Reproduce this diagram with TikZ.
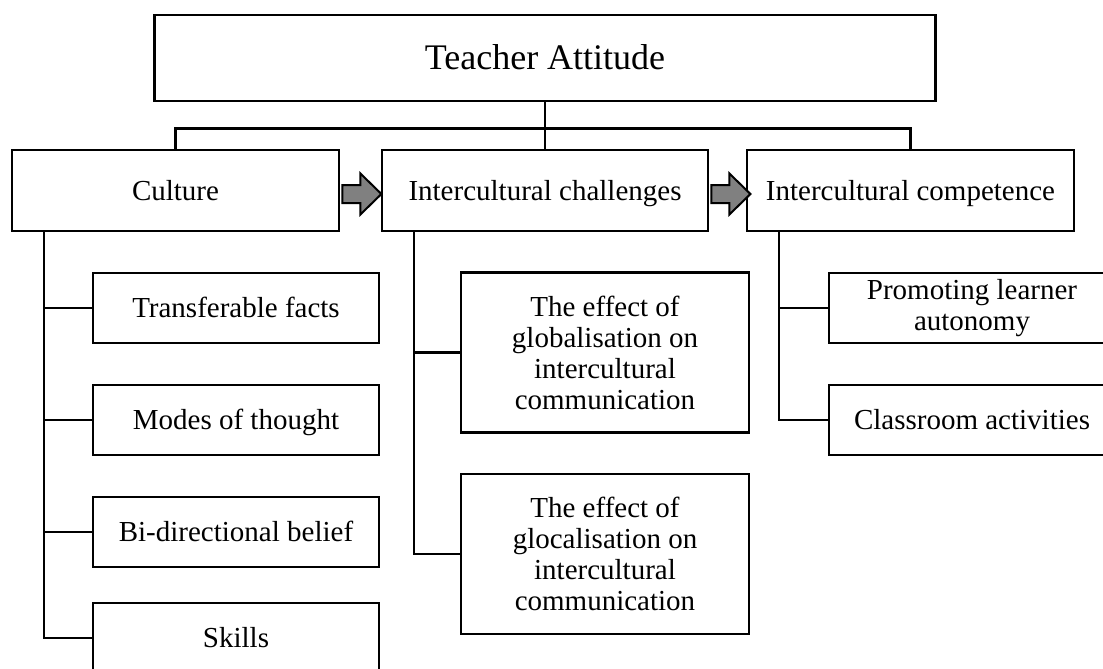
\documentclass[tikz,border=0pt]{standalone}
\usepackage{fontspec}
\setmainfont{Liberation Serif}
\usetikzlibrary{calc}

\begin{document}
\begin{tikzpicture}[x=1pt, y=-1pt, line width=2.8pt,
	box/.style={draw, rectangle, inner sep=0pt, align=center,
		font=\fontsize{29}{31}\selectfont},
	oneline/.style={text height=22pt, text depth=3pt},
	subbox/.style={box, minimum width=286, minimum height=70},
	blockarrow/.style={draw, fill=gray, line width=2pt, line join=miter}]
	  \useasboundingbox (0,0) rectangle (1103,669);

	  \node[box, oneline, minimum width=781, minimum height=86, text height=27pt,
		font=\fontsize{36}{40}\selectfont] (top) at (545,58) {Teacher Attitude};

	  \node[box, oneline, minimum width=327, minimum height=81] (cult) at (175.5,190.5) {Culture};
	  \node[box, oneline, minimum width=326, minimum height=81] (chal) at (545,190.5) {Intercultural challenges};
	  \node[box, oneline, minimum width=327, minimum height=81] (comp) at (910.5,190.5) {Intercultural competence};

	  % culture
	  \node[subbox, oneline] (tf) at (236,308) {Transferable facts};
	  \node[subbox, oneline] (mt) at (236,420) {Modes of thought};
	  \node[subbox, oneline] (bb) at (236,532) {Bi-directional belief};
	  \node[subbox, oneline] (sk) at (236,638) {Skills};

	  % challenges
	  \node[box, minimum width=288, minimum height=160] (glob) at (605,352.5)
		{The effect of\\globalisation on\\intercultural\\communication};
	  \node[box, minimum width=288, minimum height=160] (gloc) at (605,554)
		{The effect of\\glocalisation on\\intercultural\\communication};

	  % competence
	  \node[subbox] (auto) at (972,308) {Promoting learner\\autonomy};
	  \node[subbox, oneline] (act) at (972,420) {Classroom activities};

	  \draw (top.south) -- (chal.north);
	  \draw (cult.north) -- ++(0,-20) -| (comp.north);

	  \coordinate (cl) at (44,231);
	  \coordinate (ch) at (414,231);
	  \coordinate (cc) at (779,231);
	  \draw (cl) |- (sk.west);
	  \foreach \n in {tf,mt,bb}
		\draw (cl |- \n.west) -- (\n.west);
	  \draw (ch) |- (gloc.west);
	  \draw (ch |- glob.west) -- (glob.west);
	  \draw (cc) |- (act.west);
	  \draw (cc |- auto.west) -- (auto.west);

	  \foreach \a in {cult,chal}
		\draw[blockarrow] ([xshift=2pt,yshift=-3.5pt]\a.east) ++(0,-9) -- ++(18,0)
		  -- ++(0,-11.5) -- ++(21,20.5) -- ++(-21,20.5) -- ++(0,-11.5) -- ++(-18,0) -- cycle;
	\end{tikzpicture}
\end{document}
